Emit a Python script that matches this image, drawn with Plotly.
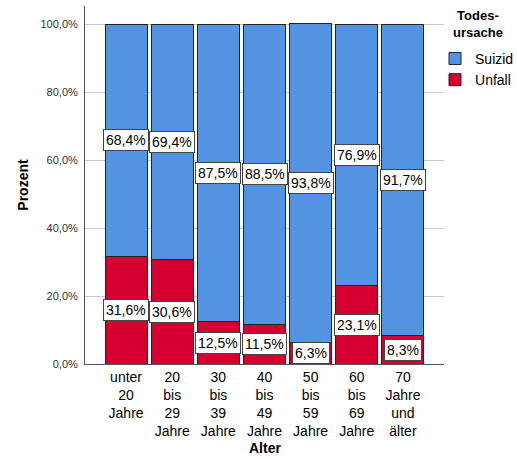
import plotly.graph_objects as go

categories = ["unter<br>20<br>Jahre", "20<br>bis<br>29<br>Jahre", "30<br>bis<br>39<br>Jahre",
              "40<br>bis<br>49<br>Jahre", "50<br>bis<br>59<br>Jahre", "60<br>bis<br>69<br>Jahre",
              "70<br>Jahre<br>und<br>älter"]
suizid = [68.4, 69.4, 87.5, 88.5, 93.8, 76.9, 91.7]
unfall = [31.6, 30.6, 12.5, 11.5, 6.3, 23.1, 8.3]
y_ticks = [0, 20, 40, 60, 80, 100]
y_ticktext = ["0,0%", "20,0%", "40,0%", "60,0%", "80,0%", "100,0%"]

BLUE = "#5394e2"
RED = "#d5002f"
FONT = "Liberation Sans, Arial, sans-serif"

def fmt(v):
    return f"{v:.1f}%".replace(".", ",")

fig = go.Figure()
fig.add_trace(go.Bar(x=categories, y=unfall, name="Unfall", marker=dict(color=RED, line=dict(color="#222", width=1)), width=0.91))
fig.add_trace(go.Bar(x=categories, y=suizid, name="Suizid", marker=dict(color=BLUE, line=dict(color="#222", width=1)), width=0.91))

annots = []
for c, u, s in zip(categories, unfall, suizid):
    for yv, val in ((u / 2, u), (u + s / 2, s)):
        annots.append(dict(x=c, y=yv, xref="x", yref="y", text=fmt(val), showarrow=False,
                           font=dict(size=14, color="black", family=FONT),
                           bgcolor="white", bordercolor="#444", borderwidth=1, borderpad=2))
annots.append(dict(x=0.5, y=-0.235, xref="paper", yref="paper", text="<b>Alter</b>", showarrow=False,
                   font=dict(size=14, color="black", family=FONT), xanchor="center", yanchor="middle"))
annots.append(dict(x=1.095, y=1.0, xref="paper", yref="paper", text="<b>Todes-<br>ursache</b>", showarrow=False,
                   font=dict(size=13, color="black", family=FONT), xanchor="center", yanchor="top", align="center"))

fig.update_layout(
    width=517, height=459,
    margin=dict(l=85, r=73, t=6, b=95, autoexpand=False),
    barmode="stack",
    plot_bgcolor="white", paper_bgcolor="white",
    font=dict(family=FONT, color="black"),
    annotations=annots,
    legend=dict(
        traceorder="reversed", x=0.975, y=0.897, xanchor="left", yanchor="top",
        font=dict(size=14, family=FONT), itemwidth=30, tracegroupgap=0,
        bgcolor="rgba(0,0,0,0)",
    ),
    xaxis=dict(range=[-0.89, 6.89], showline=True, linecolor="#555", linewidth=1,
               ticks="", tickfont=dict(size=14, color="black"), showgrid=False),
    yaxis=dict(range=[0, 105.3], tickvals=y_ticks, ticktext=y_ticktext,
               showline=True, linecolor="#555", linewidth=1, showgrid=True, gridcolor="#c8c8c8",
               tickfont=dict(size=11, color="#333"), ticks="outside", ticklen=4, tickcolor="rgba(0,0,0,0)",
               zeroline=False,
               title=dict(text="<b>Prozent</b>", font=dict(size=14), standoff=8)),
)

fig.write_html("out.html")
